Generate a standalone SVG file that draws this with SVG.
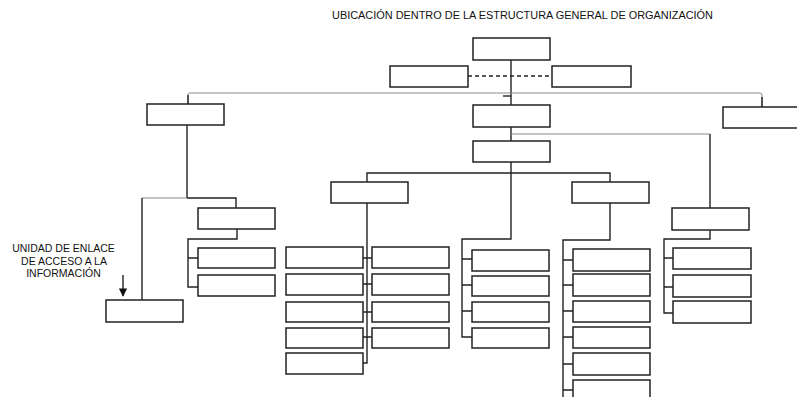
<svg xmlns="http://www.w3.org/2000/svg" width="797" height="397" viewBox="0 0 797 397">
  <style>
    .box { fill: #fff; stroke: #222; stroke-width: 1.5; }
    .ln { fill: none; stroke: #222; stroke-width: 1.4; }
    .thin { fill: none; stroke: #8a8a8a; stroke-width: 1; }
    .dash { fill: none; stroke: #222; stroke-width: 1.5; stroke-dasharray: 4 3; }
    .t { font-family: "Liberation Sans", Arial, sans-serif; fill: #111; }
  </style>
  <defs>
    <marker id="arr" viewBox="0 0 10 10" refX="9" refY="5" markerWidth="6" markerHeight="6" orient="auto">
      <path d="M0,0 L10,5 L0,10 Z" fill="#111"/>
    </marker>
  </defs>
  <rect width="797" height="397" fill="#fff"/>

  <text class="t" x="332" y="19" font-size="10" textLength="381" lengthAdjust="spacingAndGlyphs">UBICACIÓN DENTRO DE LA ESTRUCTURA GENERAL DE ORGANIZACIÓN</text>

  <g id="connectors">
    <!-- top level -->
    <line class="dash" x1="468" y1="76" x2="552" y2="76"/>
    <path class="ln" d="M511,60 V105"/>
    <path class="ln" d="M503,96 H511"/>
    <path class="thin" d="M188,104 V95 Q188,93 190,93 H760 Q762,93 762,95 V107"/>
    <path class="ln" d="M188,95 V104 M762,97 V107"/>
    <!-- center trunk -->
    <path class="ln" d="M511,127 V141"/>
    <path class="thin" d="M511,134 H710"/>
    <path class="ln" d="M710,134 V208"/>
    <path class="ln" d="M511,162 V239 H462 V337 H472"/>
    <path class="ln" d="M367,182 V173 H610 V182"/>
    <!-- column under left-middle box -->
    <path class="ln" d="M367,203 V363 H363"/>
    <path class="ln" d="M363,258 H372 M363,284 H372 M363,312 H372 M363,337 H372"/>
    <!-- column under center -->
    <path class="ln" d="M462,259 H472 M462,285 H472 M462,311 H472"/>
    <!-- column under right-middle box -->
    <path class="ln" d="M610,203 V240 H563 V397"/>
    <path class="ln" d="M563,260 H573 M563,285 H573 M563,311 H573 M563,337 H573 M563,364 H573 M563,390 H573"/>
    <!-- column under right box -->
    <path class="ln" d="M710,230 V239 H664 V313 H673"/>
    <path class="ln" d="M664,258 H673 M664,287 H673"/>
    <!-- left branch -->
    <path class="ln" d="M187,125 V198"/>
    <path class="thin" d="M142,198 H187"/>
    <path class="ln" d="M142,300 V198 M187,198 H236 V208"/>
    <path class="ln" d="M237,229 V239 H188 V287 H198 M188,258 H198"/>
    <!-- pointer arrow -->
    <line class="ln" x1="123" y1="275" x2="123" y2="296" marker-end="url(#arr)"/>
  </g>

  <g id="n-top"><rect class="box" x="473" y="38" width="77" height="22"/></g>
  <g id="n-top-left"><rect class="box" x="390" y="66" width="78" height="21"/></g>
  <g id="n-top-right"><rect class="box" x="552" y="66" width="79" height="21"/></g>
  <g id="n-l1-left"><rect class="box" x="147" y="104" width="77" height="21"/></g>
  <g id="n-l1-center"><rect class="box" x="473" y="105" width="77" height="22"/></g>
  <g id="n-l1-right"><rect class="box" x="723" y="107" width="80" height="21"/></g>
  <g id="n-l2-center"><rect class="box" x="473" y="141" width="77" height="21"/></g>
  <g id="n-l3-a"><rect class="box" x="331" y="182" width="77" height="21"/></g>
  <g id="n-l3-b"><rect class="box" x="572" y="182" width="77" height="21"/></g>
  <g id="n-l3-c"><rect class="box" x="672" y="208" width="77" height="22"/></g>
  <g id="n-left-sub"><rect class="box" x="198" y="208" width="77" height="21"/></g>
  <g id="n-enlace"><rect class="box" x="106" y="300" width="77" height="22"/></g>
  <g id="n-left-sub-1"><rect class="box" x="198" y="248" width="77" height="20"/></g>
  <g id="n-left-sub-2"><rect class="box" x="198" y="275" width="77" height="21"/></g>

  <g id="n-a-l1"><rect class="box" x="286" y="247" width="77" height="21"/></g>
  <g id="n-a-l2"><rect class="box" x="286" y="274" width="77" height="21"/></g>
  <g id="n-a-l3"><rect class="box" x="286" y="302" width="77" height="20"/></g>
  <g id="n-a-l4"><rect class="box" x="286" y="328" width="77" height="20"/></g>
  <g id="n-a-l5"><rect class="box" x="286" y="353" width="77" height="21"/></g>
  <g id="n-a-r1"><rect class="box" x="372" y="247" width="77" height="21"/></g>
  <g id="n-a-r2"><rect class="box" x="372" y="274" width="77" height="21"/></g>
  <g id="n-a-r3"><rect class="box" x="372" y="302" width="77" height="20"/></g>
  <g id="n-a-r4"><rect class="box" x="372" y="328" width="77" height="20"/></g>

  <g id="n-c-1"><rect class="box" x="472" y="250" width="77" height="21"/></g>
  <g id="n-c-2"><rect class="box" x="472" y="276" width="77" height="20"/></g>
  <g id="n-c-3"><rect class="box" x="472" y="302" width="77" height="20"/></g>
  <g id="n-c-4"><rect class="box" x="472" y="328" width="77" height="20"/></g>

  <g id="n-b-1"><rect class="box" x="573" y="249" width="77" height="22"/></g>
  <g id="n-b-2"><rect class="box" x="573" y="274" width="77" height="22"/></g>
  <g id="n-b-3"><rect class="box" x="573" y="301" width="77" height="21"/></g>
  <g id="n-b-4"><rect class="box" x="573" y="327" width="77" height="21"/></g>
  <g id="n-b-5"><rect class="box" x="573" y="353" width="77" height="22"/></g>
  <g id="n-b-6"><rect class="box" x="573" y="380" width="77" height="22"/></g>

  <g id="n-d-1"><rect class="box" x="673" y="248" width="78" height="21"/></g>
  <g id="n-d-2"><rect class="box" x="673" y="275" width="78" height="22"/></g>
  <g id="n-d-3"><rect class="box" x="673" y="301" width="78" height="22"/></g>

  <g id="label-enlace" class="t" font-size="10.5" text-anchor="middle">
    <text x="63.5" y="252">UNIDAD DE ENLACE</text>
    <text x="64" y="265">DE ACCESO A LA</text>
    <text x="63.5" y="277">INFORMACIÓN</text>
  </g>
</svg>
